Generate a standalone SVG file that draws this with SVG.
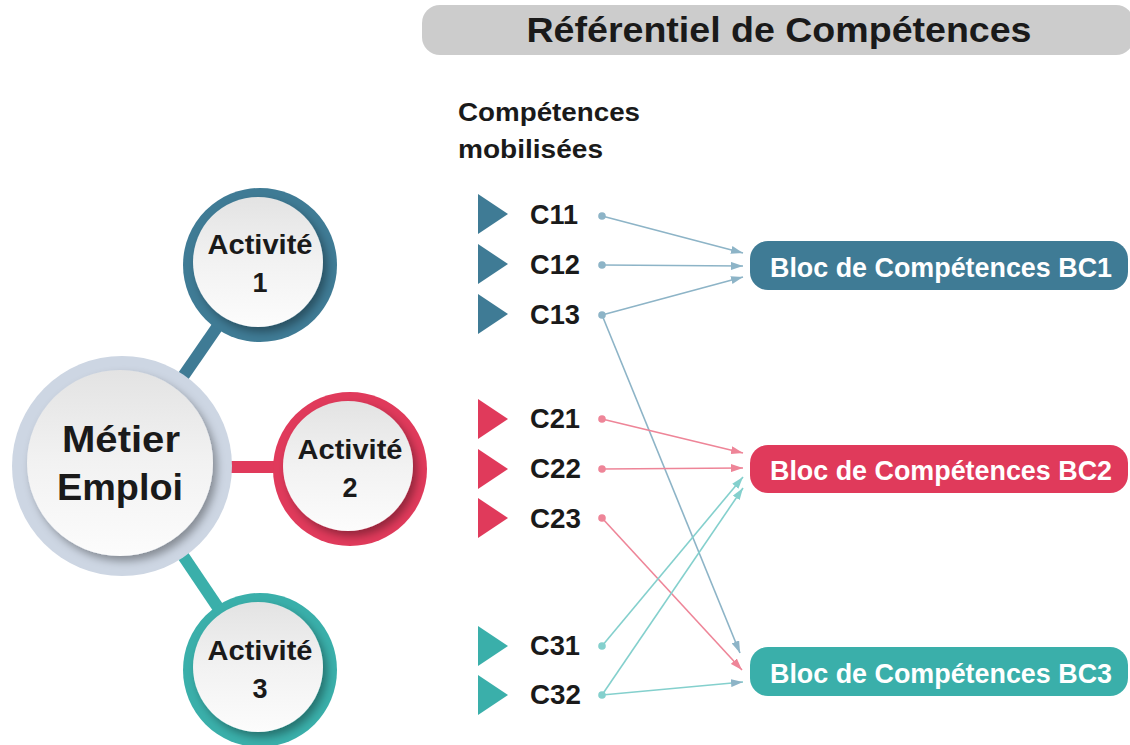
<svg xmlns="http://www.w3.org/2000/svg" width="1130" height="745" viewBox="0 0 1130 745">
<style>
.t{font-family:"Liberation Sans",Arial,sans-serif;font-weight:bold;fill:#1a1a1a}
.w{font-family:"Liberation Sans",Arial,sans-serif;font-weight:bold;fill:#ffffff}
.lb{stroke:#8db4c7;stroke-width:1.6;fill:none}
.lr{stroke:#ee8598;stroke-width:1.6;fill:none}
.lt{stroke:#84d0cd;stroke-width:1.6;fill:none}
</style>
<defs>
<linearGradient id="g" x1="0" y1="0" x2="0" y2="1">
<stop offset="0" stop-color="#e3e3e3"/>
<stop offset="0.5" stop-color="#f2f2f2"/>
<stop offset="1" stop-color="#fcfcfc"/>
</linearGradient>
<filter id="sh" x="-30%" y="-30%" width="160%" height="160%">
<feDropShadow dx="4" dy="5" stdDeviation="4" flood-color="#000" flood-opacity="0.35"/>
</filter>
<marker id="ab" viewBox="0 0 12 8" refX="12" refY="4" markerWidth="12" markerHeight="8" markerUnits="userSpaceOnUse" orient="auto"><path d="M0,0 L12,4 L0,8 Z" fill="#8db4c7"/></marker>
<marker id="ar" viewBox="0 0 12 8" refX="12" refY="4" markerWidth="12" markerHeight="8" markerUnits="userSpaceOnUse" orient="auto"><path d="M0,0 L12,4 L0,8 Z" fill="#ee8598"/></marker>
<marker id="at" viewBox="0 0 12 8" refX="12" refY="4" markerWidth="12" markerHeight="8" markerUnits="userSpaceOnUse" orient="auto"><path d="M0,0 L12,4 L0,8 Z" fill="#84d0cd"/></marker>
</defs>

<g id="title">
<rect x="422" y="5" width="712" height="50" rx="18" fill="#cccccc"/>
<text class="t" x="779" y="42" font-size="35" text-anchor="middle" textLength="505" lengthAdjust="spacingAndGlyphs">Référentiel de Compétences</text>
</g>

<g id="links-left">
<line x1="122" y1="465" x2="260" y2="265" stroke="#3f7b95" stroke-width="12"/>
<line x1="122" y1="467" x2="350" y2="467" stroke="#e03a5b" stroke-width="12"/>
<line x1="122" y1="465" x2="260" y2="670" stroke="#3aafaa" stroke-width="12"/>
</g>

<g id="metier">
<circle cx="122" cy="466" r="110" fill="#cdd6e3"/>
<circle cx="120" cy="463" r="93" fill="url(#g)" filter="url(#sh)"/>
<text class="t" x="121" y="452" font-size="37" text-anchor="middle" textLength="118" lengthAdjust="spacingAndGlyphs">Métier</text>
<text class="t" x="120" y="500" font-size="37" text-anchor="middle" textLength="126" lengthAdjust="spacingAndGlyphs">Emploi</text>
</g>

<g id="act1">
<circle cx="260" cy="265" r="77" fill="#3f7b95"/>
<circle cx="258" cy="262" r="65" fill="url(#g)" filter="url(#sh)"/>
<text class="t" x="260" y="254" font-size="27" text-anchor="middle" textLength="105" lengthAdjust="spacingAndGlyphs">Activité</text>
<text class="t" x="260" y="292" font-size="27" text-anchor="middle">1</text>
</g>

<g id="act2">
<circle cx="350" cy="469" r="77" fill="#e03a5b"/>
<circle cx="348" cy="466" r="65" fill="url(#g)" filter="url(#sh)"/>
<text class="t" x="350" y="459" font-size="27" text-anchor="middle" textLength="105" lengthAdjust="spacingAndGlyphs">Activité</text>
<text class="t" x="350" y="497" font-size="27" text-anchor="middle">2</text>
</g>

<g id="act3">
<circle cx="260" cy="670" r="77" fill="#3aafaa"/>
<circle cx="258" cy="667" r="65" fill="url(#g)" filter="url(#sh)"/>
<text class="t" x="260" y="660" font-size="27" text-anchor="middle" textLength="105" lengthAdjust="spacingAndGlyphs">Activité</text>
<text class="t" x="260" y="698" font-size="27" text-anchor="middle">3</text>
</g>

<g id="header">
<text class="t" x="458" y="121" font-size="26" textLength="182" lengthAdjust="spacingAndGlyphs">Compétences</text>
<text class="t" x="458" y="158" font-size="26" textLength="145" lengthAdjust="spacingAndGlyphs">mobilisées</text>
</g>

<g id="competences">
<g id="c11"><path d="M478,194 L508,214 L478,234 Z" fill="#3f7b95"/><text class="t" x="530" y="224" font-size="27" textLength="48" lengthAdjust="spacingAndGlyphs">C11</text></g>
<g id="c12"><path d="M478,244 L508,264 L478,284 Z" fill="#3f7b95"/><text class="t" x="530" y="274" font-size="27" textLength="50" lengthAdjust="spacingAndGlyphs">C12</text></g>
<g id="c13"><path d="M478,294 L508,314 L478,334 Z" fill="#3f7b95"/><text class="t" x="530" y="324" font-size="27" textLength="50" lengthAdjust="spacingAndGlyphs">C13</text></g>
<g id="c21"><path d="M478,399 L508,419 L478,439 Z" fill="#e03a5b"/><text class="t" x="530" y="428" font-size="27" textLength="50" lengthAdjust="spacingAndGlyphs">C21</text></g>
<g id="c22"><path d="M478,449 L508,469 L478,489 Z" fill="#e03a5b"/><text class="t" x="530" y="478" font-size="27" textLength="51" lengthAdjust="spacingAndGlyphs">C22</text></g>
<g id="c23"><path d="M478,498 L508,518 L478,538 Z" fill="#e03a5b"/><text class="t" x="530" y="528" font-size="27" textLength="51" lengthAdjust="spacingAndGlyphs">C23</text></g>
<g id="c31"><path d="M478,626 L508,646 L478,666 Z" fill="#3aafaa"/><text class="t" x="530" y="655" font-size="27" textLength="50" lengthAdjust="spacingAndGlyphs">C31</text></g>
<g id="c32"><path d="M478,675 L508,695 L478,715 Z" fill="#3aafaa"/><text class="t" x="530" y="704" font-size="27" textLength="51" lengthAdjust="spacingAndGlyphs">C32</text></g>
</g>

<g id="connectors">
<line class="lb" x1="602" y1="216" x2="743" y2="253" marker-end="url(#ab)"/>
<line class="lb" x1="602" y1="265" x2="743" y2="266" marker-end="url(#ab)"/>
<line class="lb" x1="602" y1="315" x2="743" y2="277" marker-end="url(#ab)"/>
<line class="lb" x1="602" y1="315" x2="740" y2="653" marker-end="url(#ab)"/>
<line class="lr" x1="602" y1="419" x2="743" y2="453" marker-end="url(#ar)"/>
<line class="lr" x1="602" y1="469" x2="743" y2="468" marker-end="url(#ar)"/>
<line class="lr" x1="602" y1="518" x2="742" y2="670" marker-end="url(#ar)"/>
<line class="lt" x1="602" y1="646" x2="743" y2="477" marker-end="url(#at)"/>
<line class="lt" x1="602" y1="695" x2="743" y2="488" marker-end="url(#at)"/>
<line class="lt" x1="602" y1="695" x2="743" y2="682" marker-end="url(#ab)"/>
<circle cx="602" cy="216" r="3.8" fill="#8db4c7"/>
<circle cx="602" cy="265" r="3.8" fill="#8db4c7"/>
<circle cx="602" cy="315" r="3.8" fill="#8db4c7"/>
<circle cx="602" cy="419" r="3.8" fill="#ee8598"/>
<circle cx="602" cy="469" r="3.8" fill="#ee8598"/>
<circle cx="602" cy="518" r="3.8" fill="#ee8598"/>
<circle cx="602" cy="646" r="3.8" fill="#84d0cd"/>
<circle cx="602" cy="695" r="3.8" fill="#84d0cd"/>
</g>

<g id="bc1">
<rect x="750" y="241" width="378" height="49" rx="18" fill="#3f7b95"/>
<text class="w" x="770" y="277" font-size="27" textLength="342" lengthAdjust="spacingAndGlyphs">Bloc de Compétences BC1</text>
</g>
<g id="bc2">
<rect x="750" y="445" width="378" height="48" rx="18" fill="#e03a5b"/>
<text class="w" x="770" y="480" font-size="27" textLength="342" lengthAdjust="spacingAndGlyphs">Bloc de Compétences BC2</text>
</g>
<g id="bc3">
<rect x="750" y="647" width="378" height="49" rx="18" fill="#3aafaa"/>
<text class="w" x="770" y="683" font-size="27" textLength="342" lengthAdjust="spacingAndGlyphs">Bloc de Compétences BC3</text>
</g>
</svg>
